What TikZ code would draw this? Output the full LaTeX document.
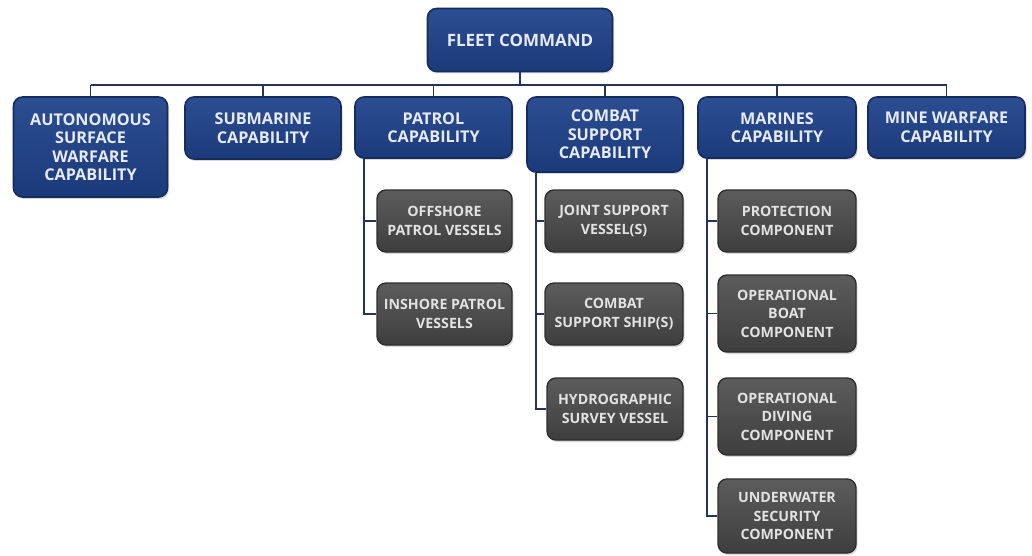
\documentclass[tikz,border=0pt]{standalone}
\usepackage{fontspec}
\setmainfont{Open Sans}
\usetikzlibrary{shadows}
\definecolor{bluetop}{HTML}{2C4E92}
\definecolor{bluebot}{HTML}{1B3A7A}
\definecolor{blueedge}{HTML}{142C5E}
\definecolor{graytop}{HTML}{5C5C5C}
\definecolor{graybot}{HTML}{3E3E3E}
\definecolor{grayedge}{HTML}{2E2E2E}
\definecolor{linecol}{HTML}{26335F}
\definecolor{bluetext}{HTML}{E6EAF4}
\definecolor{graytext}{HTML}{E2E2E2}
\tikzset{
  bbox/.style={rounded corners=9pt, top color=bluetop, bottom color=bluebot, draw=blueedge, line width=1.6pt,
    text=bluetext, align=center, inner sep=2pt,
    font=\fontsize{16.2}{18.5}\selectfont\bfseries,
    drop shadow={shadow xshift=1.5pt, shadow yshift=-2pt, opacity=0.3}},
  gbox/.style={rounded corners=9pt, top color=graytop, bottom color=graybot, draw=grayedge, line width=1.4pt,
    text=graytext, align=center, inner sep=2pt,
    font=\fontsize{14.2}{18.5}\selectfont\bfseries,
    drop shadow={shadow xshift=1.5pt, shadow yshift=-2pt, opacity=0.3}},
  conn/.style={draw=linecol, line width=1.8pt}
}
\begin{document}
\begin{tikzpicture}[x=1pt,y=-1pt]
\useasboundingbox (0,0) rectangle (1032,556);
% top
\node[bbox, minimum width=185pt, minimum height=63pt, font=\fontsize{17}{20}\selectfont\bfseries] (fleet) at (520,40) {FLEET COMMAND};
% level 1
\node[bbox, minimum width=154pt, minimum height=100pt] (auto) at (90.5,147) {AUTONOMOUS\\SURFACE\\WARFARE\\CAPABILITY};
\node[bbox, minimum width=156pt, minimum height=62pt] (sub) at (263,128) {SUBMARINE\\CAPABILITY};
\node[bbox, minimum width=157pt, minimum height=61pt] (patrol) at (433.5,127.5) {PATROL\\CAPABILITY};
\node[bbox, minimum width=156pt, minimum height=75pt] (combat) at (605,134.5) {COMBAT\\SUPPORT\\CAPABILITY};
\node[bbox, minimum width=158pt, minimum height=61pt] (marines) at (777,127.5) {MARINES\\CAPABILITY};
\node[bbox, minimum width=157pt, minimum height=61pt] (mine) at (946.5,127.5) {MINE WARFARE\\CAPABILITY};
% level 2
\node[gbox, minimum width=135pt, minimum height=62pt] (off) at (444.5,221) {OFFSHORE\\PATROL VESSELS};
\node[gbox, minimum width=135pt, minimum height=62pt] (insh) at (444.5,314) {INSHORE PATROL\\VESSELS};
\node[gbox, minimum width=138pt, minimum height=62pt] (joint) at (614,221) {JOINT SUPPORT\\VESSEL(S)};
\node[gbox, minimum width=138pt, minimum height=62pt] (cship) at (614,314) {COMBAT\\SUPPORT SHIP(S)};
\node[gbox, minimum width=136pt, minimum height=62pt] (hydro) at (615,409) {HYDROGRAPHIC\\SURVEY VESSEL};
\node[gbox, minimum width=138pt, minimum height=62pt] (prot) at (787,221) {PROTECTION\\COMPONENT};
\node[gbox, minimum width=138pt, minimum height=77pt] (boat) at (787,313.5) {OPERATIONAL\\BOAT\\COMPONENT};
\node[gbox, minimum width=138pt, minimum height=77pt] (diving) at (787,416.5) {OPERATIONAL\\DIVING\\COMPONENT};
\node[gbox, minimum width=138pt, minimum height=74pt] (under) at (787,516) {UNDERWATER\\SECURITY\\COMPONENT};
% bus
\coordinate (bus) at (0,85);
\draw[conn] (fleet.south) -- (fleet.south |- bus);
\draw[conn] (auto.north |- bus) -- (mine.north |- bus);
\foreach \n in {auto,sub,patrol,combat,marines,mine}
  \draw[conn] (\n.north |- bus) -- (\n.north);
% patrol tree
\coordinate (pv) at ([xshift=10pt]patrol.south west);
\draw[conn] (pv) |- (insh.west);
\draw[conn] (pv |- off.west) -- (off.west);
% combat tree
\coordinate (cv) at ([xshift=10pt]combat.south west);
\draw[conn] (cv) |- (hydro.west);
\draw[conn] (cv |- joint.west) -- (joint.west);
\draw[conn] (cv |- cship.west) -- (cship.west);
% marines tree
\coordinate (mv) at ([xshift=10pt]marines.south west);
\draw[conn] (mv) |- (under.west);
\draw[conn] (mv |- prot.west) -- (prot.west);
\draw[conn] (mv |- boat.west) -- (boat.west);
\draw[conn] (mv |- diving.west) -- (diving.west);
\end{tikzpicture}
\end{document}
